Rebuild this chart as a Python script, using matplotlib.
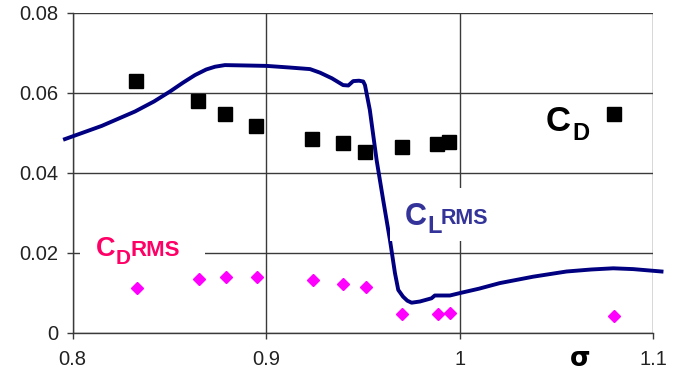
import matplotlib
matplotlib.use("Agg")
import matplotlib.pyplot as plt
from matplotlib.patches import Rectangle

plt.rcParams['font.family'] = ['Liberation Sans', 'DejaVu Sans']

# drag coefficient (squares)
sigma_cd = [0.8327, 0.8649, 0.8789, 0.8947, 0.9238, 0.9395, 0.9511, 0.9700, 0.9884, 0.9946, 1.0797]
cd = [0.0630, 0.0580, 0.0546, 0.0517, 0.0484, 0.0475, 0.0453, 0.0463, 0.0472, 0.0476, 0.0546]

# RMS of drag coefficient (diamonds)
sigma_cdrms = [0.8330, 0.8653, 0.8792, 0.8951, 0.9240, 0.9395, 0.9514, 0.9703, 0.9886, 0.9953, 1.0799]
cd_rms = [0.0111, 0.0134, 0.0140, 0.0140, 0.0132, 0.0121, 0.0114, 0.0047, 0.0048, 0.0050, 0.0042]

# RMS of lift coefficient (curve)
sigma_cl = [0.7960, 0.8150, 0.8322, 0.8420, 0.8503, 0.8570, 0.8632, 0.8690, 0.8736, 0.8787,
            0.8900, 0.9003, 0.9120, 0.9227, 0.9279, 0.9340, 0.9398, 0.9425, 0.9450, 0.9480,
            0.9502, 0.9511, 0.9536, 0.9571, 0.9605, 0.9640, 0.9666, 0.9683, 0.9708, 0.9730,
            0.9752, 0.9795, 0.9855, 0.9872, 0.9950, 1.0001, 1.0100, 1.0208, 1.0380, 1.0553,
            1.0680, 1.0794, 1.0897, 1.1044]
cl_rms = [0.0484, 0.0517, 0.0553, 0.0578, 0.0603, 0.0625, 0.0644, 0.0658, 0.0665, 0.0669,
          0.0668, 0.0667, 0.0663, 0.0659, 0.0650, 0.0636, 0.0619, 0.0618, 0.0629, 0.0630,
          0.0628, 0.0619, 0.0557, 0.0432, 0.0332, 0.0232, 0.0149, 0.0107, 0.0090, 0.0080,
          0.0075, 0.0078, 0.0086, 0.0093, 0.0093, 0.0099, 0.0110, 0.0124, 0.0140, 0.0153,
          0.0158, 0.0161, 0.0159, 0.0153]

xticks = [0.8, 0.9, 1.0, 1.1]
xtick_labels = ["0.8", "0.9", "1", "1.1"]
yticks = [0, 0.02, 0.04, 0.06, 0.08]
ytick_labels = ["0", "0.02", "0.04", "0.06", "0.08"]

W, H = 690, 374
fig = plt.figure(figsize=(W / 100, H / 100), dpi=100)
ax = fig.add_axes([72.7 / W, 1 - 332.7 / H, (653 - 72.7) / W, (332.7 - 12.7) / H])


def px(x, y):
    # pixel position (top-left origin) -> figure fraction
    return x / W, 1 - y / H


grid_col = "#3a3a3a"
ax.set_xlim(0.8, 1.1)
ax.set_ylim(0, 0.08)
ax.set_xticks(xticks)
ax.set_xticklabels(xtick_labels)
ax.set_yticks(yticks)
ax.set_yticklabels(ytick_labels)
ax.grid(True, color=grid_col, linewidth=1.0, zorder=0)
ax.set_axisbelow(True)
for s in ["top", "right"]:
    ax.spines[s].set_visible(False)
for s in ["left", "bottom"]:
    ax.spines[s].set_color(grid_col)
    ax.spines[s].set_linewidth(1.0)
ax.tick_params(axis="both", direction="out", length=4.5, width=1.0, color=grid_col,
               labelsize=14.5, labelcolor="#222222")
ax.tick_params(axis="y", pad=6)
ax.tick_params(axis="x", pad=8)

ax.plot(sigma_cl, cl_rms, color="#000080", linewidth=2.8, clip_on=False, zorder=3,
        solid_joinstyle="round")
ax.plot(sigma_cd, cd, linestyle="none", marker="s", markersize=10, color="black", zorder=4)
ax.plot(sigma_cdrms, cd_rms, linestyle="none", marker="D", markersize=6.5,
        color="#ff00ff", zorder=4)

# white panels behind the series labels
for (x0, y0, x1, y1) in [(80, 232, 205, 270), (390, 188, 500, 241)]:
    fx0, fy1 = px(x0, y1)
    fx1, fy0 = px(x1, y0)
    fig.patches.append(Rectangle((fx0, fy1), fx1 - fx0, fy0 - fy1, transform=fig.transFigure,
                                 facecolor="white", edgecolor="none", zorder=5))

# series labels: main letter, subscript, suffix
pink = "#ff0066"
blue = "#333399"
fig.text(*px(96, 256), "C", color=pink, fontsize=19.5, fontweight="bold", va="baseline", zorder=6)
fig.text(*px(116, 264), "D", color=pink, fontsize=15, fontweight="bold", va="baseline", zorder=6)
fig.text(*px(130, 256.5), "RMS", color=pink, fontsize=16, fontweight="bold", va="baseline", zorder=6)

fig.text(*px(405, 225), "C", color=blue, fontsize=22, fontweight="bold", va="baseline", zorder=6)
fig.text(*px(427, 233), "L", color=blue, fontsize=17, fontweight="bold", va="baseline", zorder=6)
fig.text(*px(441, 224.5), "RMS", color=blue, fontsize=15.5, fontweight="bold", va="baseline", zorder=6)

fig.text(*px(546, 131), "C", color="black", fontsize=25, fontweight="bold", va="baseline", zorder=6)
fig.text(*px(572, 140), "D", color="black", fontsize=17, fontweight="bold", va="baseline", zorder=6)

fig.text(*px(580, 359), "\u03c3", color="black", fontsize=19, fontweight="bold",
         ha="center", va="center", family=["DejaVu Sans"])

fig.savefig("out.png", dpi=100)
